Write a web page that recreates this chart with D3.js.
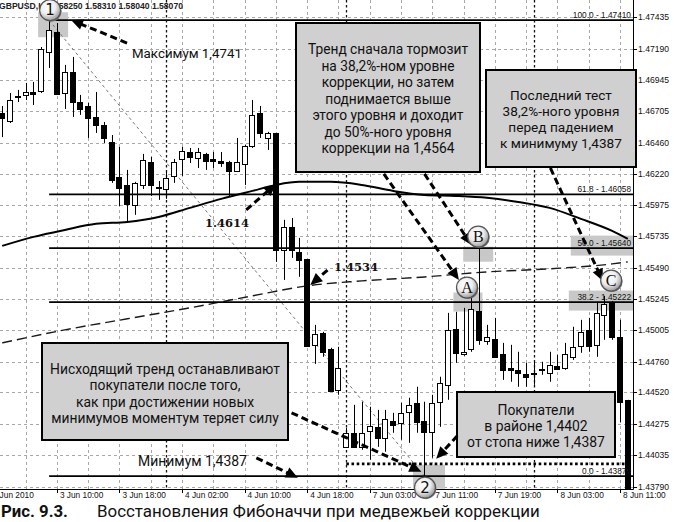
<!DOCTYPE html>
<html>
<head>
<meta charset="utf-8">
<script src="https://cdn.jsdelivr.net/npm/d3@7/dist/d3.min.js"></script>
<style>
html,body{margin:0;padding:0;background:#fff;overflow:hidden;}
svg{display:block;}
</style>
</head>
<body>
<svg id="chart" width="674" height="522"></svg>
<script>
// ---------------- DATA ----------------
const headerText = "GBPUSD,H1 1.58250 1.58310 1.58040 1.58070";

const opens = [1.46690,1.46628,1.46814,1.46830,1.46853,1.46861,1.47163,1.47319,1.46845,1.47008,
1.46775,1.46744,1.46659,1.46597,1.46465,1.46194,1.46131,1.45976,1.46131,1.46310,
1.46116,1.46100,1.46201,1.46333,1.46387,1.46341,1.46372,1.46333,1.46318,1.46310,
1.46240,1.46294,1.46434,1.46690,1.46496,1.46535,1.45627,1.45805,1.45611,1.45557,
1.44890,1.44983,1.44859,1.44541,1.44098,1.44207,1.44098,1.44222,1.44253,1.44168,
1.44298,1.44282,1.44370,1.44440,1.44298,1.44215,1.44448,1.44579,1.45014,1.44820,
1.44859,1.45154,1.44921,1.44936,1.44820,1.44711,1.44696,1.44665,1.44673,1.44696,
1.44673,1.44727,1.44711,1.44797,1.44882,1.45006,1.44890,1.45123,1.45224,1.44952,1.44463];

const highs = [1.46744,1.46845,1.46869,1.46923,1.46931,1.47202,1.47410,1.47388,1.47063,1.47125,
1.46830,1.46768,1.46853,1.46620,1.46519,1.46426,1.46248,1.46155,1.46372,1.46349,
1.46162,1.46232,1.46333,1.46426,1.46418,1.46418,1.46380,1.46387,1.46387,1.46318,
1.46496,1.46442,1.46791,1.46744,1.46543,1.46535,1.45860,1.45875,1.45720,1.45557,
1.45045,1.44991,1.44867,1.44874,1.44246,1.44424,1.44448,1.44409,1.44385,1.44385,
1.44362,1.44440,1.44479,1.44564,1.44448,1.44502,1.44642,1.45138,1.45146,1.45177,
1.45255,1.45640,1.45045,1.45099,1.44905,1.44890,1.44836,1.44750,1.44758,1.44758,
1.44836,1.44812,1.44905,1.45030,1.45084,1.45099,1.45224,1.45270,1.45231,1.45084,1.44463];

const lows = [1.46503,1.46612,1.46775,1.46791,1.46752,1.46845,1.47039,1.46830,1.46721,1.46659,
1.46675,1.46496,1.46535,1.46457,1.46147,1.45968,1.45844,1.45899,1.46100,1.46046,
1.46015,1.46023,1.46147,1.46201,1.46302,1.46263,1.46248,1.46263,1.46271,1.46038,
1.46232,1.46131,1.46418,1.46496,1.46403,1.45534,1.45394,1.45565,1.45418,1.44882,
1.44742,1.44797,1.44525,1.44502,1.44091,1.44091,1.44075,1.43997,1.44098,1.44060,
1.44207,1.44153,1.44129,1.44207,1.43870,1.44013,1.44253,1.44463,1.44750,1.44805,
1.44836,1.44890,1.44890,1.44789,1.44618,1.44603,1.44564,1.44564,1.44579,1.44657,
1.44603,1.44696,1.44696,1.44773,1.44828,1.44836,1.44797,1.44929,1.44929,1.44290,1.43720];

const closes = [1.46651,1.46791,1.46822,1.46853,1.46838,1.47187,1.47334,1.46838,1.47008,1.46775,
1.46721,1.46651,1.46597,1.46496,1.46170,1.46108,1.45984,1.46147,1.46325,1.46131,
1.46108,1.46186,1.46310,1.46395,1.46349,1.46387,1.46318,1.46318,1.46302,1.46240,
1.46310,1.46434,1.46673,1.46535,1.46535,1.45627,1.45805,1.45627,1.45549,1.44882,
1.44975,1.44836,1.44533,1.44711,1.44207,1.44098,1.44207,1.44261,1.44168,1.44315,
1.44267,1.44362,1.44424,1.44290,1.44215,1.44440,1.44595,1.45006,1.44828,1.44836,
1.45169,1.44929,1.44952,1.44797,1.44696,1.44696,1.44673,1.44642,1.44668,1.44700,
1.44735,1.44704,1.44820,1.44874,1.44991,1.44882,1.45138,1.45208,1.44952,1.44448,1.43770];

const priceTicks = [1.47435,1.47190,1.46945,1.46705,1.46460,1.46220,1.45975,1.45735,
1.45490,1.45245,1.45005,1.44760,1.44520,1.44275,1.44035,1.43790];
const timeTickIdx = [-1.6,7,15,23,31,39,47,55,63,71,79];
const timeTickLabels = ["3 Jun 2010","3 Jun 10:00","3 Jun 18:00","4 Jun 02:00","4 Jun 10:00",
"4 Jun 18:00","7 Jun 03:00","7 Jun 11:00","7 Jun 19:00","8 Jun 03:00","8 Jun 11:00"];
const separatorIdx = [21,44,68];

const fibRatios = ["100.0","61.8","50.0","38.2","0.0"];
const fibPrices = [1.47410,1.46058,1.45640,1.45222,1.43870];
const fibHighIdx = 6, fibLowIdx = 54;

const maSolidIdx = [0,4,8,12,16,20,24,28,32,35,38,42,46,50,54,58,62,66,70,74,78,80];
const maSolidVal = [1.45658,1.45728,1.45782,1.45829,1.45844,1.45883,1.45953,1.46023,1.46085,1.46131,
1.46155,1.46155,1.46131,1.46085,1.46054,1.46046,1.46031,1.45999,1.45953,1.45868,1.45774,1.45712];
const maDashIdx = [0,8,16,24,32,39,46,54,62,70,78,80];
const maDashVal = [1.44905,1.45006,1.45092,1.45177,1.45270,1.45348,1.45386,1.45417,1.45456,1.45480,1.45518,1.45534];

const stopLevel = 1.43966, stopFromIdx = 44, stopToIdx = 80;

// annotation arrows: tail [idx, price] -> head [idx, price]
const arrowTails = [[15.96,1.47233],[31.2,1.45937],[41.6,1.45470],[48.8,1.46217],[54.0,1.46217],
                    [70.1,1.46263],[37.0,1.44362],[32.5,1.44013],[58.2,1.44184]];
const arrowHeads = [[8.8,1.47412],[35.0,1.46139],[39.4,1.45355],[58.4,1.45394],[60.0,1.45665],
                    [76.8,1.45386],[53.6,1.43904],[37.8,1.43858],[55.5,1.44005]];

// highlighted zones: anchor [idx, price] and pixel offsets
const zoneAnchors = [[6,1.47410],[60,1.45222],[61,1.45640],[80,1.45222],[80,1.45640],[54,1.43870]];
const zoneRects = [[-11,-8,30,25],[-18,-9.5,29,19],[-16,-1.5,30,15],[-59,-11.5,65,20],[-57,-12.6,63,20],[-11.5,-11.5,32,24]];

// circled point labels
const markLabels = ["1","2","A","B","C"];
const markAnchors = [[6,1.47410],[54,1.43870],[60,1.45222],[61,1.45640],[78,1.45222]];
const markOffsets = [[1,-10],[0.5,11.5],[-4.4,-14.5],[-1,-11.6],[-1,-21.5]];

const boxTexts = [
  ["Тренд сначала тормозит","на 38,2%-ном уровне","коррекции, но затем","поднимается выше","этого уровня и доходит","до 50%-ного уровня","коррекции на 1,4564"],
  ["Последний тест","38,2%-ного уровня","перед падением","к минимуму 1,4387"],
  ["Нисходящий тренд останавливают","покупатели после того,","как при достижении новых","минимумов моментум теряет силу"],
  ["Покупатели","в районе 1,4402","от стопа ниже 1,4387"]
];
const captionNum = "Рис. 9.3.";
const captionText = "Восстановления Фибоначчи при медвежьей коррекции";

// ---------------- LAYOUT ----------------
const svg = d3.select("#chart");
const plotRight = 633, plotBottom = 489;
const x = d3.scaleLinear().domain([0,80]).range([2.2,627.8]);
const y = d3.scaleLinear().domain([1.4379,1.47435]).range([486.5,17]);
const AX = "'Liberation Sans', Arial, sans-serif";
const TX = "Roboto, 'Open Sans', sans-serif";

svg.append("rect").attr("width",674).attr("height",522).attr("fill","#fff");

const defs = svg.append("defs");
defs.append("clipPath").attr("id","plot").append("rect").attr("x",0).attr("y",0).attr("width",plotRight).attr("height",plotBottom);
const rg = defs.append("radialGradient").attr("id","ball").attr("cx","40%").attr("cy","35%").attr("r","65%");
rg.append("stop").attr("offset","0%").attr("stop-color","#ffffff");
rg.append("stop").attr("offset","55%").attr("stop-color","#eeeeee");
rg.append("stop").attr("offset","100%").attr("stop-color","#9c9c9c");

const plot = svg.append("g").attr("clip-path","url(#plot)");

// grid
const px = v => Math.round(v) + 0.5;
plot.selectAll(".hg").data(priceTicks).enter().append("line")
  .attr("x1",0).attr("x2",plotRight).attr("y1",d=>px(y(d))).attr("y2",d=>px(y(d)))
  .attr("stroke","#a8a8a8").attr("stroke-dasharray","3,3");
plot.selectAll(".vg").data(d3.range(3,81,4)).enter().append("line")
  .attr("x1",d=>px(x(d))).attr("x2",d=>px(x(d))).attr("y1",0).attr("y2",plotBottom)
  .attr("stroke","#a8a8a8").attr("stroke-dasharray","3,3");
plot.selectAll(".sep").data(separatorIdx).enter().append("line")
  .attr("x1",d=>px(x(d))).attr("x2",d=>px(x(d))).attr("y1",0).attr("y2",plotBottom)
  .attr("stroke","#111").attr("stroke-width",1.3).attr("stroke-dasharray","2.5,2.5");

// highlight zones
plot.selectAll(".zone").data(zoneAnchors).enter().append("rect")
  .attr("x",(d,i)=>x(d[0])+zoneRects[i][0]).attr("y",(d,i)=>y(d[1])+zoneRects[i][1])
  .attr("width",(d,i)=>zoneRects[i][2]).attr("height",(d,i)=>zoneRects[i][3])
  .attr("fill","#c8c8c8");

// fib diagonal
plot.append("line")
  .attr("x1",x(fibHighIdx)).attr("y1",y(fibPrices[0]))
  .attr("x2",x(fibLowIdx)).attr("y2",y(fibPrices[4]))
  .attr("stroke","#777").attr("stroke-width",1).attr("stroke-dasharray","3,3");

// moving averages
const maLine = d3.line().curve(d3.curveMonotoneX);
plot.append("path").attr("d",maLine(maSolidIdx.map((d,i)=>[x(d),y(maSolidVal[i])])))
  .attr("fill","none").attr("stroke","#000").attr("stroke-width",2);
plot.append("path").attr("d",maLine(maDashIdx.map((d,i)=>[x(d),y(maDashVal[i])])))
  .attr("fill","none").attr("stroke","#1a1a1a").attr("stroke-width",1.4).attr("stroke-dasharray","10,5");

// candles
const candles = plot.append("g");
opens.forEach((o,i)=>{
  const c = closes[i], cx = px(x(i));
  candles.append("line").attr("x1",cx).attr("x2",cx).attr("y1",y(highs[i])).attr("y2",y(lows[i]))
    .attr("stroke","#000").attr("stroke-width",1);
  const top = y(Math.max(o,c)), bot = y(Math.min(o,c));
  const h = Math.max(1, bot-top);
  candles.append("rect").attr("x",Math.round(x(i))-2.5).attr("y",Math.round(top)+0.5)
    .attr("width",5).attr("height",Math.max(1,Math.round(h)))
    .attr("fill", c < o ? "#000" : "#fff").attr("stroke","#000").attr("stroke-width",1);
});

// fib levels
plot.selectAll(".fib").data(fibPrices).enter().append("line")
  .attr("x1",x(fibHighIdx)).attr("x2",plotRight).attr("y1",d=>y(d)).attr("y2",d=>y(d))
  .attr("stroke","#000").attr("stroke-width",1.7);
plot.selectAll(".fibt").data(fibPrices).enter().append("text")
  .attr("x",plotRight-2).attr("y",d=>y(d)-2).attr("text-anchor","end")
  .attr("font-family",AX).attr("font-size",8.3).attr("fill","#111")
  .text((d,i)=>fibRatios[i]+" - "+d.toFixed(5));

// stop dotted line
plot.append("line").attr("x1",x(stopFromIdx)).attr("x2",x(stopToIdx)).attr("y1",y(stopLevel)).attr("y2",y(stopLevel))
  .attr("stroke","#000").attr("stroke-width",2.6).attr("stroke-dasharray","2.6,2.6");

// axes
svg.append("line").attr("x1",plotRight+0.5).attr("x2",plotRight+0.5).attr("y1",0).attr("y2",plotBottom+0.5).attr("stroke","#000");
svg.append("line").attr("x1",0).attr("x2",plotRight+0.5).attr("y1",plotBottom+0.5).attr("y2",plotBottom+0.5).attr("stroke","#000");
svg.selectAll(".yt").data(priceTicks).enter().append("line")
  .attr("x1",plotRight).attr("x2",plotRight+4).attr("y1",d=>px(y(d))).attr("y2",d=>px(y(d))).attr("stroke","#000");
svg.selectAll(".yl").data(priceTicks).enter().append("text")
  .attr("x",plotRight+5).attr("y",d=>y(d)+3).attr("font-family",AX).attr("font-size",8.6).attr("fill","#111")
  .text(d=>d.toFixed(5));
svg.selectAll(".xt").data(timeTickIdx).enter().append("line")
  .attr("x1",d=>px(x(d))).attr("x2",d=>px(x(d))).attr("y1",plotBottom).attr("y2",plotBottom+4).attr("stroke","#000");
svg.selectAll(".xl").data(timeTickIdx).enter().append("text")
  .attr("x",d=>x(d)+3).attr("y",plotBottom+9).attr("font-family",AX).attr("font-size",8.3).attr("fill","#111")
  .text((d,i)=>timeTickLabels[i]);

// header
svg.append("text").attr("x",-1).attr("y",9).attr("font-family",AX).attr("font-size",8.6)
  .attr("font-weight","bold").attr("fill","#222").text(headerText);

// helper to fit font size to a width
function fitSize(lines, width, weight){
  const t = svg.append("text").attr("font-family",TX).attr("font-size",20).attr("font-weight",weight||"normal");
  let mx = 0;
  lines.forEach(l=>{ t.text(l); mx = Math.max(mx, t.node().getComputedTextLength()); });
  t.remove();
  return 20*width/mx;
}

// boxes
const boxGeom = [[296,23,184,149,388,54,16.5,160],[486,70,150,97,561,100,16,122],
                 [42,343,246,97,165,374,16.3,230],[457,392,158,65,536,415,16,138]];
boxTexts.forEach((lines,i)=>{
  const g = boxGeom[i];
  svg.append("rect").attr("x",g[0]).attr("y",g[1]).attr("width",g[2]).attr("height",g[3])
    .attr("fill","#d0d0d0").attr("stroke","#000").attr("stroke-width",2);
  const fs = fitSize(lines, g[7]);
  svg.selectAll(null).data(lines).enter().append("text")
    .attr("x",g[4]).attr("y",(d,k)=>g[5]+k*g[6]).attr("text-anchor","middle")
    .attr("font-family",TX).attr("font-size",fs).attr("fill","#111").text(d=>d);
});

// arrows
arrowTails.forEach((t,i)=>{
  const h = arrowHeads[i];
  const x1=x(t[0]), y1=y(t[1]), x2=x(h[0]), y2=y(h[1]);
  const dx=x2-x1, dy=y2-y1, L=Math.hypot(dx,dy), ux=dx/L, uy=dy/L;
  const hl=12, hw=5.5, bx=x2-ux*hl, by=y2-uy*hl;
  svg.append("line").attr("x1",x1).attr("y1",y1).attr("x2",bx+ux*2).attr("y2",by+uy*2)
    .attr("stroke","#000").attr("stroke-width",3).attr("stroke-dasharray","7,4");
  svg.append("path").attr("d",`M${x2},${y2}L${bx-uy*hw},${by+ux*hw}L${bx+uy*hw},${by-ux*hw}Z`).attr("fill","#000");
});

// free labels
const maxLbl = "Максимум 1,4741", minLbl = "Минимум 1,4387";
svg.append("text").attr("x",132).attr("y",58).attr("font-family",TX).attr("font-size",fitSize([maxLbl],110)).attr("fill","#111").text(maxLbl);
svg.append("text").attr("x",138).attr("y",466).attr("font-family",TX).attr("font-size",fitSize([minLbl],109)).attr("fill","#111").text(minLbl);
svg.append("text").attr("x",205).attr("y",227).attr("font-family","'DejaVu Serif', serif").attr("font-weight","bold")
  .attr("font-size",11.5).attr("fill","#111").text("1.4614");
svg.append("text").attr("x",334).attr("y",271).attr("font-family","'DejaVu Serif', serif").attr("font-weight","bold")
  .attr("font-size",11.5).attr("fill","#111").text("1.4534");

// circled marks
markAnchors.forEach((a,i)=>{
  const cx = x(a[0])+markOffsets[i][0], cy = y(a[1])+markOffsets[i][1];
  svg.append("circle").attr("cx",cx+1).attr("cy",cy+1).attr("r",10.5).attr("fill","#777");
  svg.append("circle").attr("cx",cx).attr("cy",cy).attr("r",10.5).attr("fill","url(#ball)").attr("stroke","#555").attr("stroke-width",1.2);
  const isDigit = /\d/.test(markLabels[i]);
  svg.append("text").attr("x",cx).attr("y",cy+5).attr("text-anchor","middle")
    .attr("font-family", isDigit ? "'DejaVu Sans', sans-serif" : "'Liberation Serif', serif")
    .attr("font-size", isDigit ? 15 : 16).attr("fill","#111").text(markLabels[i]);
});

// caption
svg.append("text").attr("x",1).attr("y",517).attr("font-family",TX).attr("font-weight","bold")
  .attr("font-size",fitSize([captionNum],67,"bold")).attr("fill","#111").text(captionNum);
svg.append("text").attr("x",97).attr("y",517).attr("font-family",TX)
  .attr("font-size",fitSize([captionText],443)).attr("fill","#111").text(captionText);
</script>
</body>
</html>
